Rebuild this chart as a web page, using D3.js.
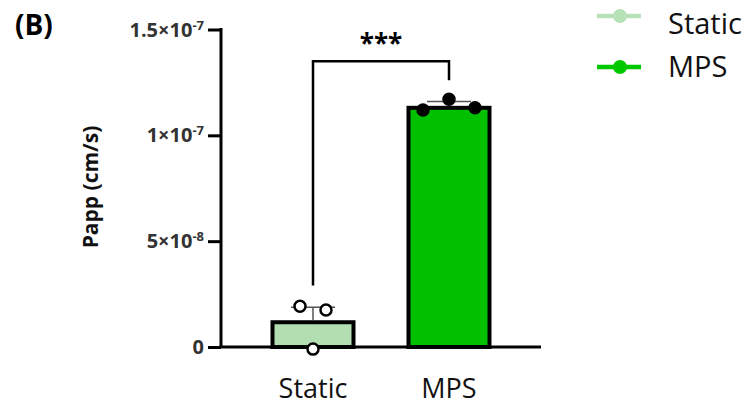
<!DOCTYPE html>
<html>
<head>
    <meta charset="utf-8">
    <title>Papp Static vs MPS</title>
    <script type="text/javascript" src="https://d3js.org/d3.v7.min.js"></script>
    <style>
        body { margin: 0; background: #fff; }
        text { font-family: "Open Sans", sans-serif; }
    </style>
</head>
<body>
<script type="text/javascript">
    //Data
    var groups = ["Static", "MPS"];
    var means = [1.17e-8, 1.13e-7];
    var errTop = [1.88e-8, 1.16e-7];
    var points = [
        [1.93e-8, 1.75e-8, -0.1e-8],
        [1.12e-7, 1.17e-7, 1.13e-7]
    ];
    var fills = ["#b2deb2", "#00c000"];
    var legendColors = ["#b7e2b7", "#00c800"];
    var yTicks = [0, 5e-8, 1e-7, 1.5e-7];
    var yTickLabels = [["0", ""], ["5×10", "-8"], ["1×10", "-7"], ["1.5×10", "-7"]];

    var w = 756, h = 407;

    var svg = d3.select("body").append("svg")
        .attr("width", w)
        .attr("height", h);

    //Scales
    var y = d3.scaleLinear().domain([0, 1.5e-7]).range([347, 29.5]);
    var x = d3.scaleBand().domain(groups).range([221, 541])
        .paddingInner(0.375).paddingOuter(0.364);

    //Bars
    svg.selectAll("rect.bar")
        .data(groups)
        .enter().append("rect")
        .attr("class", "bar")
        .attr("x", d => x(d) + 2)
        .attr("width", x.bandwidth() - 4)
        .attr("y", (d, i) => y(means[i]))
        .attr("height", (d, i) => y(0) - y(means[i]))
        .attr("fill", (d, i) => fills[i])
        .attr("stroke", "#000")
        .attr("stroke-width", 4);

    //Error bars (upper only)
    groups.forEach(function(g, i) {
        var cx = x(g) + x.bandwidth() / 2;
        svg.append("line")
            .attr("x1", cx).attr("x2", cx)
            .attr("y1", y(means[i]) - 2).attr("y2", y(errTop[i]))
            .attr("stroke", "#555").attr("stroke-width", 1.5);
        svg.append("line")
            .attr("x1", cx - 22).attr("x2", cx + 22)
            .attr("y1", y(errTop[i])).attr("y2", y(errTop[i]))
            .attr("stroke", "#555").attr("stroke-width", 1.5);
    });

    //Axes
    var yAxis = d3.axisLeft(y).tickValues(yTicks).tickSize(13).tickFormat("");
    var gy = svg.append("g").attr("transform", "translate(221,0)").call(yAxis);
    gy.selectAll("line, path").attr("stroke", "#000").attr("stroke-width", 3);
    gy.select("path").attr("d", "M0," + (y(1.5e-7) - 1.5) + "V" + y(0));

    var xAxis = d3.axisBottom(x).tickSize(0).tickPadding(32);
    var gx = svg.append("g").attr("transform", "translate(0," + y(0) + ")").call(xAxis);
    gx.select("path").attr("stroke", "#000").attr("stroke-width", 3).attr("d", "M219.5,0H541");
    gx.selectAll("text")
        .attr("font-family", "Open Sans")
        .attr("font-size", 27)
        .attr("fill", "#111");

    //Y tick labels with superscripts
    yTicks.forEach(function(v, i) {
        var t = svg.append("text")
            .attr("x", 204)
            .attr("y", y(v) + 7)
            .attr("text-anchor", "end")
            .attr("font-size", 20)
            .attr("font-weight", "bold")
            .attr("fill", "#333");
        t.append("tspan").text(yTickLabels[i][0]);
        if (yTickLabels[i][1]) {
            t.append("tspan").attr("dy", -7).attr("font-size", 13).text(yTickLabels[i][1]);
        }
    });

    //Y title
    svg.append("text")
        .attr("transform", "translate(98,187) rotate(-90)")
        .attr("text-anchor", "middle")
        .attr("font-size", 21)
        .attr("font-weight", "bold")
        .attr("fill", "#111")
        .text("Papp (cm/s)");

    //Panel label
    svg.append("text")
        .attr("x", 15).attr("y", 35)
        .attr("font-size", 28)
        .attr("font-weight", "bold")
        .text("(B)");

    //Data points
    groups.forEach(function(g, i) {
        var cx = x(g) + x.bandwidth() / 2;
        var xs = i === 0 ? [-13, 13, 0] : [-26, 0, 26];
        svg.selectAll(null)
            .data(points[i])
            .enter().append("circle")
            .attr("cx", (d, j) => cx + xs[j])
            .attr("cy", d => y(d))
            .attr("r", 5.5)
            .attr("fill", i === 0 ? "#fff" : "#000")
            .attr("stroke", "#000")
            .attr("stroke-width", 2.5);
    });

    //Significance bracket
    var c0 = x(groups[0]) + x.bandwidth() / 2;
    var c1 = x(groups[1]) + x.bandwidth() / 2;
    svg.append("path")
        .attr("d", "M" + c0 + "," + y(2.9e-8) + "V" + y(1.35e-7) + "H" + c1 + "V" + y(1.26e-7))
        .attr("fill", "none")
        .attr("stroke", "#000")
        .attr("stroke-width", 2.5);
    svg.append("text")
        .attr("x", (c0 + c1) / 2)
        .attr("y", 53)
        .attr("text-anchor", "middle")
        .attr("font-size", 26)
        .attr("font-weight", "bold")
        .text("***");

    //Legend
    var leg = svg.selectAll("g.leg")
        .data(groups)
        .enter().append("g")
        .attr("class", "leg");
    leg.append("line")
        .attr("x1", 597).attr("x2", 641)
        .attr("y1", (d, i) => 16 + i * 51)
        .attr("y2", (d, i) => 16 + i * 51)
        .attr("stroke", (d, i) => legendColors[i])
        .attr("stroke-width", 4.5);
    leg.append("circle")
        .attr("cx", 620)
        .attr("cy", (d, i) => 16 + i * 51)
        .attr("r", 7)
        .attr("fill", (d, i) => legendColors[i]);
    leg.append("text")
        .attr("x", 668)
        .attr("y", (d, i) => 34 + i * 43)
        .attr("font-size", 29)
        .attr("fill", "#111")
        .text(d => d);
</script>
</body>
</html>
